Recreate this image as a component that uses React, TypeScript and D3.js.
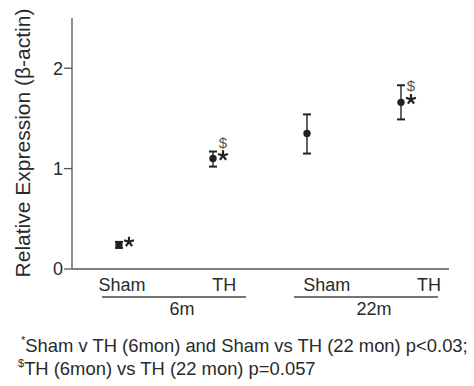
import React from "react";
import * as d3 from "d3";

const categories = ["Sham 6m", "TH 6m", "Sham 22m", "TH 22m"];
const conditionLabels = ["Sham", "TH", "Sham", "TH"];
const means = [0.24, 1.1, 1.35, 1.66];
const errLow = [0.21, 1.02, 1.15, 1.49];
const errHigh = [0.27, 1.17, 1.54, 1.83];
const starMarks = [true, true, false, true];
const dollarMarks = [false, true, false, true];
const groups = ["6m", "22m"];
const yTicks = [0, 1, 2];

const W = 474;
const H = 386;
const font = "'Liberation Sans', Arial, sans-serif";
const textColor = "#2a2a2a";
const axisColor = "#555";

// five-armed asterisk symbol
const asterisk = {
  draw(context: any, size: number) {
    const r = Math.sqrt(size) / 2;
    for (let k = 0; k < 5; k++) {
      const a = (-90 + 72 * k) * (Math.PI / 180);
      context.moveTo(0, 0);
      context.lineTo(r * Math.cos(a), r * Math.sin(a));
    }
  },
};

export default function App() {
  const y = d3.scaleLinear().domain([0, 2.5]).range([269, 18]);
  const x = d3.scalePoint<string>().domain(categories).range([119, 401]);
  const xl = d3.scalePoint<string>().domain(categories).range([122, 429]);
  const xg = d3.scalePoint<string>().domain(groups).range([174, 366]);
  const starPath = d3.symbol().type(asterisk as any).size(110)()!;
  const x0 = 72;
  const x1 = 449;
  return (
    <svg width={W} height={H} style={{ position: "absolute", left: 0, top: 0, background: "#fff" }}>
      <line x1={x0} x2={x0} y1={y(2.5)} y2={y(0)} stroke={axisColor} strokeWidth={1.3} />
      <line x1={x0} x2={x1} y1={y(0)} y2={y(0)} stroke={axisColor} strokeWidth={1.3} />
      {yTicks.map((t) => (
        <g key={t}>
          <line x1={x0 - 8} x2={x0} y1={y(t)} y2={y(t)} stroke={axisColor} strokeWidth={1.3} />
          <text x={x0 - 9} y={y(t)} dy="0.36em" textAnchor="end" fontFamily={font} fontSize={18} fill={textColor}>
            {t}
          </text>
        </g>
      ))}
      <text
        transform={`translate(23,143) rotate(-90)`}
        textAnchor="middle"
        dy="0.35em"
        fontFamily={font}
        fontSize={21}
        fill={textColor}
      >
        Relative Expression (β-actin)
      </text>
      {categories.map((c, i) => {
        const cx = x(c)!;
        return (
          <g key={c}>
            <line x1={cx} x2={cx} y1={y(errLow[i])} y2={y(errHigh[i])} stroke="#333" strokeWidth={1.5} />
            <line x1={cx - 4} x2={cx + 4} y1={y(errLow[i])} y2={y(errLow[i])} stroke="#222" strokeWidth={2} />
            <line x1={cx - 4} x2={cx + 4} y1={y(errHigh[i])} y2={y(errHigh[i])} stroke="#222" strokeWidth={2} />
            <circle cx={cx} cy={y(means[i])} r={3.7} fill="#222" />
            {starMarks[i] && (
              <path
                d={starPath}
                transform={`translate(${cx + 10},${y(means[i]) - 3})`}
                fill="none"
                stroke="#222"
                strokeWidth={2.2}
              />
            )}
            {dollarMarks[i] && (
              <text x={cx + 10} y={y(means[i]) - 11} textAnchor="middle" fontFamily={font} fontSize={15} fill="#555">
                $
              </text>
            )}
            <text x={xl(c)!} y={291} textAnchor="middle" fontFamily={font} fontSize={18} fill={textColor}>
              {conditionLabels[i]}
            </text>
          </g>
        );
      })}
      {groups.map((g) => {
        const gx = xg(g)!;
        return (
          <g key={g}>
            <line x1={gx - 72} x2={gx + 72} y1={297} y2={297} stroke="#444" strokeWidth={1.6} />
            <text x={gx + 8} y={315} textAnchor="middle" fontFamily={font} fontSize={18} fill={textColor}>
              {g}
            </text>
          </g>
        );
      })}
      <text x={21} y={352} fontFamily={font} fontSize={18.4} fill={textColor}>
        <tspan fontSize={11} dy={-8}>*</tspan>
        <tspan dy={8}>Sham v TH (6mon) and Sham vs TH (22 mon) p&lt;0.03;</tspan>
      </text>
      <text x={18} y={375} fontFamily={font} fontSize={18.4} fill={textColor}>
        <tspan fontSize={11} dy={-8}>$</tspan>
        <tspan dy={8}>TH (6mon) vs TH (22 mon) p=0.057</tspan>
      </text>
    </svg>
  );
}
